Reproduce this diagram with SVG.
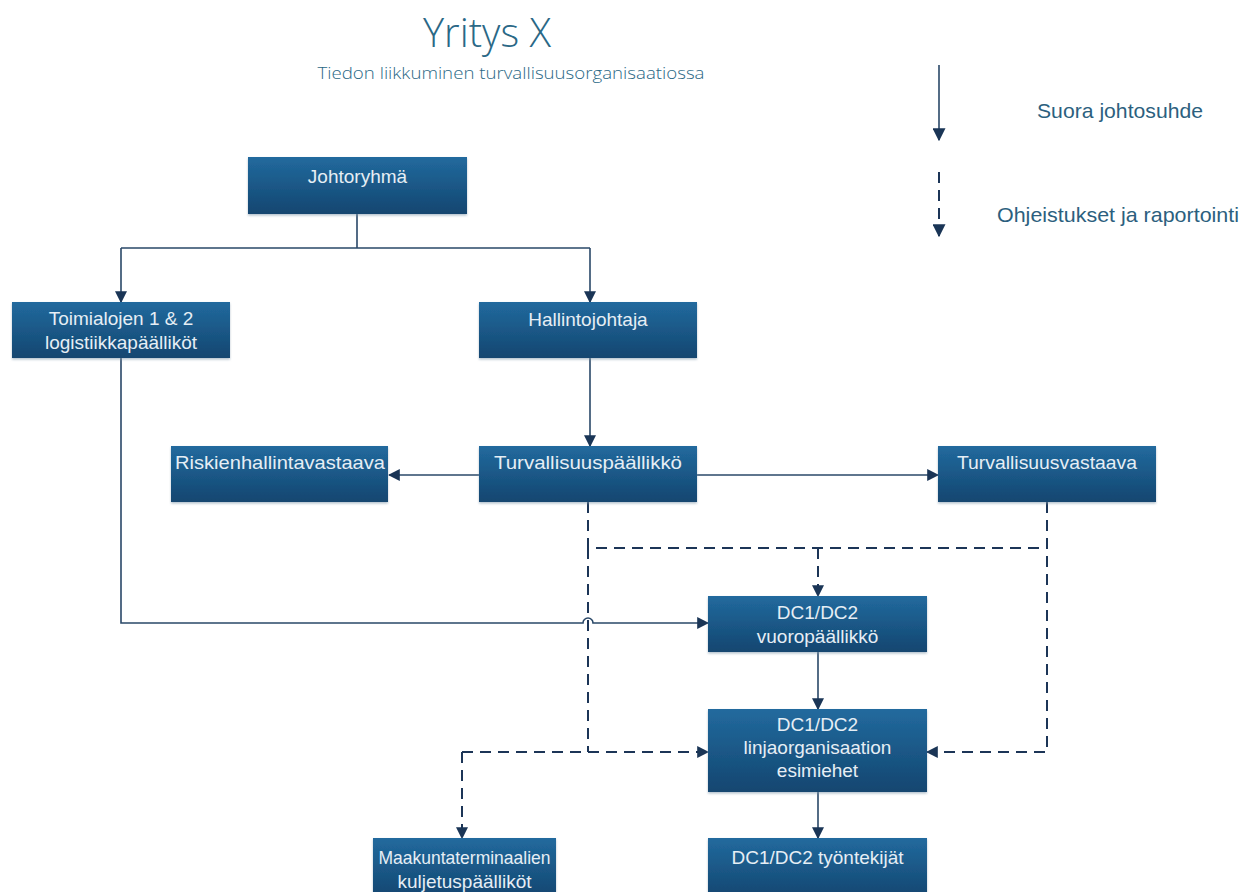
<svg xmlns="http://www.w3.org/2000/svg" width="1247" height="892" viewBox="0 0 1247 892">
  <defs>
    <linearGradient id="boxFill" x1="0" y1="0" x2="0" y2="1">
      <stop offset="0" stop-color="#226a9e"/>
      <stop offset="1" stop-color="#134670"/>
    </linearGradient>
    <filter id="shadow" x="-5%" y="-10%" width="110%" height="125%">
      <feDropShadow dx="0" dy="1.5" stdDeviation="1.2" flood-color="#7f96aa" flood-opacity="0.6"/>
    </filter>
    <marker id="arrow" viewBox="0 0 10 10" refX="9" refY="5" markerWidth="12" markerHeight="12" markerUnits="userSpaceOnUse" orient="auto">
      <path d="M0,0 L10,5 L0,10 z" fill="#1a3556"/>
    </marker>
    <marker id="arrowL" viewBox="0 0 10 10" refX="9" refY="5" markerWidth="13" markerHeight="13" markerUnits="userSpaceOnUse" orient="auto">
      <path d="M0,0 L10,5 L0,10 z" fill="#1a3556"/>
    </marker>
  </defs>
  <style>
    .box { fill: url(#boxFill); filter: url(#shadow); }
    .label { font-family: "Liberation Sans", Arial, sans-serif; font-size: 19px; fill: #e6eef5; text-anchor: middle; }
    .title { font-family: "Open Sans", "Liberation Sans", sans-serif; font-weight: 300; fill: #2a6886; }
    .legend { font-family: "Liberation Sans", Arial, sans-serif; font-size: 21px; fill: #2c5f7e; }
    .solid { fill: none; stroke: #2a4868; stroke-width: 1.6; }
    .dashed { fill: none; stroke: #1c3557; stroke-width: 2; stroke-dasharray: 11 7; }
  </style>

  <rect width="1247" height="892" fill="#ffffff"/>

  <!-- heading -->
  <g id="heading">
    <text class="title" x="487" y="47" font-size="40" text-anchor="middle">Yritys X</text>
    <text class="title" x="511" y="79" font-size="17" font-weight="400" text-anchor="middle" textLength="387" lengthAdjust="spacingAndGlyphs">Tiedon liikkuminen turvallisuusorganisaatiossa</text>
  </g>

  <!-- legend -->
  <g id="legend">
    <line class="solid" x1="939" y1="65" x2="939" y2="140" stroke="#1a3556" marker-end="url(#arrowL)"/>
    <text class="legend" x="1037" y="118" textLength="166" lengthAdjust="spacingAndGlyphs">Suora johtosuhde</text>
    <line class="dashed" x1="939" y1="172" x2="939" y2="236" marker-end="url(#arrowL)"/>
    <text class="legend" x="997" y="222" textLength="242" lengthAdjust="spacingAndGlyphs">Ohjeistukset ja raportointi</text>
  </g>

  <!-- connectors -->
  <g id="connectors">
    <!-- direct reporting lines -->
    <path class="solid" d="M357,214 V248 M121,248 H590"/>
    <path class="solid" d="M121,248 V302" marker-end="url(#arrow)"/>
    <path class="solid" d="M590,248 V302" marker-end="url(#arrow)"/>
    <path class="solid" d="M590,358 V446" marker-end="url(#arrow)"/>
    <path class="solid" d="M479,475 H389" marker-end="url(#arrow)"/>
    <path class="solid" d="M697,475 H938" marker-end="url(#arrow)"/>
    <path class="solid" d="M121,358 V623 H583 A5,5 0 0 1 593,623 H708" marker-end="url(#arrow)"/>
    <path class="solid" d="M818,652 V709" marker-end="url(#arrow)"/>
    <path class="solid" d="M818,792 V838" marker-end="url(#arrow)"/>
    <!-- guidance and reporting lines -->
    <path class="dashed" d="M588,502 V548 H1047"/>
    <path class="dashed" d="M1047,502 V752 H927" marker-end="url(#arrow)"/>
    <path class="dashed" d="M818,548 V596" marker-end="url(#arrow)"/>
    <path class="dashed" d="M588,548 V752"/>
    <path class="dashed" d="M462,752 H708" marker-end="url(#arrow)"/>
    <path class="dashed" d="M462,752 V838" marker-end="url(#arrow)"/>
  </g>

  <!-- nodes -->
  <g id="johtoryhma">
    <rect class="box" x="248" y="157" width="219" height="57"/>
    <text class="label" x="357.5" y="183">Johtoryhmä</text>
  </g>
  <g id="toimialojen-logistiikkapaallikot">
    <rect class="box" x="12" y="302" width="218" height="56"/>
    <text class="label" x="121" y="325">Toimialojen 1 &amp; 2</text>
    <text class="label" x="121" y="349">logistiikkapäälliköt</text>
  </g>
  <g id="hallintojohtaja">
    <rect class="box" x="479" y="302" width="218" height="56"/>
    <text class="label" x="588" y="326">Hallintojohtaja</text>
  </g>
  <g id="riskienhallintavastaava">
    <rect class="box" x="171" y="446" width="217" height="56"/>
    <text class="label" x="280" y="469" textLength="210" lengthAdjust="spacingAndGlyphs">Riskienhallintavastaava</text>
  </g>
  <g id="turvallisuuspaallikko">
    <rect class="box" x="479" y="446" width="218" height="56"/>
    <text class="label" x="588" y="469" textLength="188" lengthAdjust="spacingAndGlyphs">Turvallisuuspäällikkö</text>
  </g>
  <g id="turvallisuusvastaava">
    <rect class="box" x="938" y="446" width="218" height="56"/>
    <text class="label" x="1047" y="469" textLength="180" lengthAdjust="spacingAndGlyphs">Turvallisuusvastaava</text>
  </g>
  <g id="vuoropaallikko">
    <rect class="box" x="708" y="596" width="219" height="56"/>
    <text class="label" x="817.5" y="619">DC1/DC2</text>
    <text class="label" x="817.5" y="643">vuoropäällikkö</text>
  </g>
  <g id="linjaorganisaation-esimiehet">
    <rect class="box" x="708" y="709" width="219" height="83"/>
    <text class="label" x="817.5" y="731">DC1/DC2</text>
    <text class="label" x="817.5" y="754">linjaorganisaation</text>
    <text class="label" x="817.5" y="777">esimiehet</text>
  </g>
  <g id="maakuntaterminaalien-kuljetuspaallikot">
    <rect class="box" x="373" y="838" width="183" height="60"/>
    <text class="label" x="464.5" y="864" textLength="172" lengthAdjust="spacingAndGlyphs">Maakuntaterminaalien</text>
    <text class="label" x="464.5" y="888">kuljetuspäälliköt</text>
  </g>
  <g id="tyontekijat">
    <rect class="box" x="708" y="838" width="219" height="60"/>
    <text class="label" x="817.5" y="864">DC1/DC2 työntekijät</text>
  </g>
</svg>
